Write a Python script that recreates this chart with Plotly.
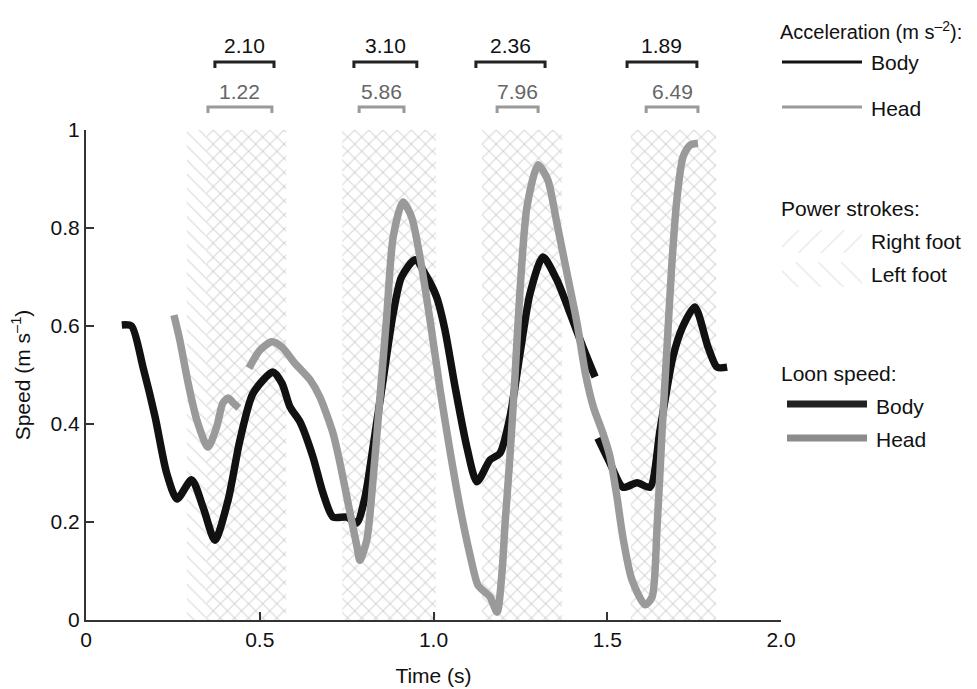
import plotly.graph_objects as go

# ---------------- data ----------------
body_t = [0.103, 0.131, 0.164, 0.199, 0.232, 0.262, 0.304, 0.337, 0.371, 0.409,
          0.443, 0.481, 0.538, 0.564, 0.587, 0.616, 0.653, 0.682, 0.711, 0.751,
          0.779, 0.803, 0.826, 0.855, 0.884, 0.908, 0.947, 0.981, 1.009, 1.033,
          1.062, 1.096, 1.125, 1.163, 1.191, 1.22, 1.249, 1.278, 1.315, 1.355,
          1.393, 1.430, 1.465, None,
          1.473, 1.508, 1.545, 1.586, 1.623, 1.652, 1.689, 1.718, 1.752, 1.79, 1.816, 1.845]
body_speed = [0.602, 0.60, 0.516, 0.414, 0.30, 0.247, 0.286, 0.23, 0.163, 0.245,
              0.367, 0.463, 0.506, 0.483, 0.435, 0.404, 0.333, 0.259, 0.21, 0.21,
              0.198, 0.251, 0.353, 0.49, 0.626, 0.70, 0.735, 0.70, 0.659, 0.592,
              0.476, 0.353, 0.282, 0.327, 0.34, 0.414, 0.544, 0.667, 0.741, 0.694,
              0.626, 0.557, 0.496, None,
              0.371, 0.32, 0.271, 0.28, 0.271, 0.388, 0.537, 0.60, 0.639, 0.557, 0.516, 0.516]

head_t = [0.253, 0.27, 0.294, 0.319, 0.351, 0.376, 0.394, 0.409, 0.424, 0.44, None,
          0.469, 0.501, 0.535, 0.564, 0.601, 0.645, 0.673, 0.711,
          0.731, 0.76, 0.78, 0.788, 0.808, 0.826, 0.846, 0.866, 0.884, 0.912,
          0.937, 0.961, 0.99, 1.019, 1.047, 1.076, 1.105, 1.128, 1.148, 1.163,
          1.183, 1.197, 1.206, 1.22, 1.235, 1.249, 1.269, 1.301, 1.329, 1.355,
          1.384, 1.413, 1.438, 1.46, 1.488, 1.508, 1.528, 1.545, 1.571, 1.609,
          1.629, 1.643, 1.658, 1.672, 1.686, 1.701, 1.718, 1.738, 1.761]
head_speed = [0.622, 0.571, 0.483, 0.408, 0.353, 0.394, 0.443, 0.453, 0.443, 0.433, None,
              0.514, 0.551, 0.568, 0.557, 0.524, 0.49, 0.455, 0.381,
              0.32, 0.218, 0.149, 0.122, 0.163, 0.286, 0.455, 0.626, 0.782, 0.853,
              0.822, 0.741, 0.612, 0.47, 0.347, 0.231, 0.133, 0.071, 0.057, 0.047,
              0.016, 0.096, 0.198, 0.333, 0.504, 0.673, 0.843, 0.929, 0.898, 0.81,
              0.708, 0.606, 0.50, 0.435, 0.38, 0.333, 0.251, 0.169, 0.082, 0.031,
              0.047, 0.184, 0.388, 0.557, 0.728, 0.863, 0.945, 0.969, 0.973]

right_foot_start = [0.348, 0.737, 1.14, 1.568]
right_foot_end = [0.576, 1.007, 1.37, 1.813]
left_foot_start = [0.29, 0.737, 1.14, 1.568]
left_foot_end = [0.576, 1.007, 1.37, 1.813]

acc_body_start = [0.371, 0.771, 1.122, 1.557]
acc_body_end = [0.541, 0.952, 1.321, 1.758]
acc_body_labels = ["2.10", "3.10", "2.36", "1.89"]
acc_head_start = [0.351, 0.786, 1.183, 1.612]
acc_head_end = [0.535, 0.915, 1.301, 1.761]
acc_head_labels = ["1.22", "5.86", "7.96", "6.49"]

x_ticks = [0, 0.5, 1.0, 1.5, 2.0]
x_tick_labels = ["0", "0.5", "1.0", "1.5", "2.0"]
y_ticks = [0, 0.2, 0.4, 0.6, 0.8, 1.0]
y_tick_labels = ["0", "0.2", "0.4", "0.6", "0.8", "1"]

# ---------------- style ----------------
FONT = "Liberation Sans, Arial, sans-serif"
FS = 21
BLACK = "#111111"
GREY = "#9a9a9a"
HATCH = "#bcbcbc"
AXIS = "#333333"

fig = go.Figure()


def rects(starts, ends, y0, y1):
    xs, ys = [], []
    for s, e in zip(starts, ends):
        xs += [s, e, e, s, s, None]
        ys += [y0, y0, y1, y1, y0, None]
    return xs, ys


# power stroke hatching
for starts, ends, shape in [(left_foot_start, left_foot_end, "\\"),
                            (right_foot_start, right_foot_end, "/")]:
    xs, ys = rects(starts, ends, 0, 1)
    fig.add_trace(go.Scatter(
        x=xs, y=ys, mode="lines", fill="toself", line=dict(width=0, color="rgba(0,0,0,0)"),
        fillcolor="rgba(0,0,0,0)",
        fillpattern=dict(shape=shape, fgcolor=HATCH, size=10, solidity=0.12),
        hoverinfo="skip", showlegend=False))

# speed curves
fig.add_trace(go.Scatter(x=body_t, y=body_speed, mode="lines",
                         line=dict(color=BLACK, width=7.5, shape="spline", smoothing=0.7),
                         connectgaps=False, showlegend=False))
fig.add_trace(go.Scatter(x=head_t, y=head_speed, mode="lines",
                         line=dict(color=GREY, width=7.5, shape="spline", smoothing=0.7),
                         connectgaps=False, showlegend=False))

annotations = []


# acceleration brackets (subplot x / y3, y3 in pixel-like units of the reference)
def brackets(starts, ends, ybar, ytick):
    xs, ys = [], []
    for s, e in zip(starts, ends):
        xs += [s, s, e, e, None]
        ys += [ytick, ybar, ybar, ytick, None]
    return xs, ys


for starts, ends, labels, col, tcol, ybar, ytick, ytext in [
        (acc_body_start, acc_body_end, acc_body_labels, "#222222", "#111111", 62, 68, 45),
        (acc_head_start, acc_head_end, acc_head_labels, GREY, "#666666", 107, 113, 91)]:
    xs, ys = brackets(starts, ends, ybar, ytick)
    fig.add_trace(go.Scatter(x=xs, y=ys, xaxis="x", yaxis="y3", mode="lines",
                             line=dict(color=col, width=3), hoverinfo="skip",
                             showlegend=False))
    for s, e, lab in zip(starts, ends, labels):
        annotations.append(dict(x=(s + e) / 2, y=ytext, xref="x", yref="y3", text=lab,
                                showarrow=False, xanchor="center", yanchor="middle",
                                font=dict(family=FONT, size=FS, color=tcol)))

# ---------------- custom legend (x2 / y2 in pixel-like units) ----------------
for yy, col in [(62, "#111111"), (107, GREY)]:
    fig.add_trace(go.Scatter(x=[782, 862], y=[yy, yy], xaxis="x2", yaxis="y2", mode="lines",
                             line=dict(color=col, width=3), hoverinfo="skip", showlegend=False))
for yy, col in [(404, "#222222"), (438, "#8c8c8c")]:
    fig.add_trace(go.Scatter(x=[787, 867], y=[yy, yy], xaxis="x2", yaxis="y2", mode="lines",
                             line=dict(color=col, width=7), hoverinfo="skip", showlegend=False))
for y0, y1, shape in [(230, 253, "/"), (262, 287, "\\")]:
    fig.add_trace(go.Scatter(x=[782, 862, 862, 782, 782], y=[y0, y0, y1, y1, y0],
                             xaxis="x2", yaxis="y2", mode="lines", fill="toself",
                             line=dict(width=0, color="rgba(0,0,0,0)"),
                             fillcolor="rgba(0,0,0,0)",
                             fillpattern=dict(shape=shape, fgcolor="#c4c4c4", size=16, solidity=0.07),
                             hoverinfo="skip", showlegend=False))

legend_texts = [
    (778, 30, "Acceleration (m s<sup>–2</sup>):", 20),
    (869, 62, "Body", FS),
    (869, 108, "Head", FS),
    (779, 208, "Power strokes:", FS),
    (869, 241, "Right foot", FS),
    (869, 274, "Left foot", FS),
    (779, 373, "Loon speed:", FS),
    (874, 406, "Body", FS),
    (874, 439, "Head", FS),
]
for x, y, t, fs in legend_texts:
    annotations.append(dict(x=x, y=y, xref="x2", yref="y2", text=t, showarrow=False,
                            xanchor="left", yanchor="middle",
                            font=dict(family=FONT, size=fs, color="#111111")))

# page body margin offsets everything by 8 px; compensate in the margins
L, R, T, B = 78, 18, 2, 77
PW = 977 - L - R
PH = 689 - T - B
MAIN_X_END = (781 - 86) / PW
MAIN_Y_END = (620 - 130) / PH
LEG_X0 = 770

fig.update_layout(
    width=977, height=689,
    margin=dict(l=L, r=R, t=T, b=B, autoexpand=False),
    paper_bgcolor="white", plot_bgcolor="rgba(0,0,0,0)",
    font=dict(family=FONT, size=FS, color="#111111"),
    showlegend=False,
    xaxis=dict(domain=[0, MAIN_X_END], range=[0, 2.0], anchor="y",
               tickvals=x_ticks, ticktext=x_tick_labels,
               showline=True, linecolor=AXIS, linewidth=2,
               ticks="inside", ticklen=8, tickwidth=2, tickcolor=AXIS,
               showgrid=False, zeroline=False, automargin=False,
               tickfont=dict(family=FONT, size=FS, color="#111111"),
               title=dict(text="Time (s)", font=dict(family=FONT, size=FS), standoff=18)),
    yaxis=dict(domain=[0, MAIN_Y_END], range=[0, 1.0], anchor="x",
               tickvals=y_ticks, ticktext=y_tick_labels,
               showline=True, linecolor=AXIS, linewidth=2,
               ticks="inside", ticklen=8, tickwidth=2, tickcolor=AXIS,
               showgrid=False, zeroline=False, automargin=False,
               tickfont=dict(family=FONT, size=FS, color="#111111"),
               title=dict(text="Speed (m s<sup>–1</sup>)", font=dict(family=FONT, size=FS),
                          standoff=17)),
    yaxis3=dict(domain=[MAIN_Y_END, 1], range=[130, 10], anchor="x", visible=False,
                showgrid=False, zeroline=False),
    xaxis2=dict(domain=[(LEG_X0 - 86) / PW, 1], range=[LEG_X0, 967], anchor="y2", visible=False,
                showgrid=False, zeroline=False),
    yaxis2=dict(domain=[0, 1], range=[620, 10], anchor="x2", visible=False,
                showgrid=False, zeroline=False),
    annotations=annotations,
)

fig.write_html("out.html")
